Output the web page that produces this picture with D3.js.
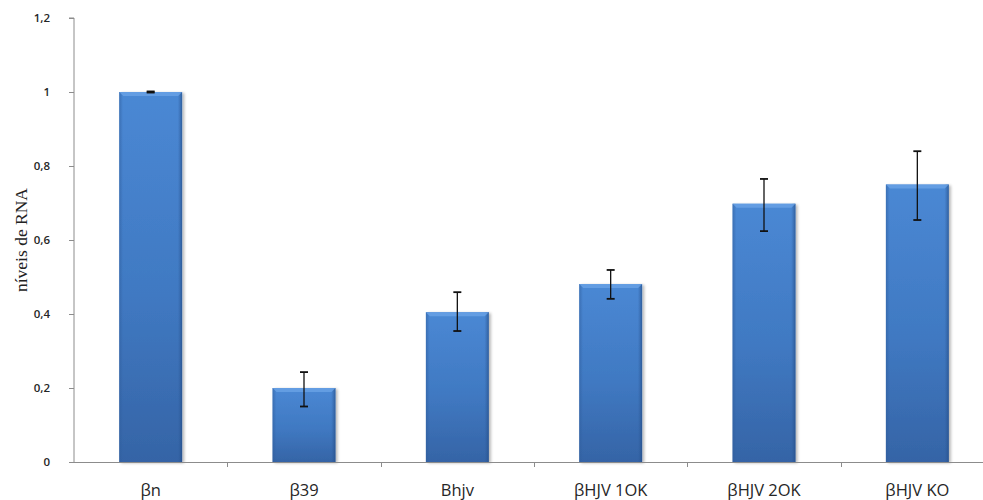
<!DOCTYPE html>
<html>
<head>
<meta charset="utf-8">
<script src="https://cdn.jsdelivr.net/npm/d3@7"></script>
<style>
  html, body { margin: 0; padding: 0; background: #fff; }
  svg { display: block; }
</style>
</head>
<body>
<svg id="chart" width="983" height="500"></svg>
<script>
// RNA levels per sample, with error bar bounds
const categories = ["βn", "β39", "Bhjv", "βHJV 1OK", "βHJV 2OK", "βHJV KO"];
const values = [1.0, 0.2, 0.405, 0.481, 0.698, 0.75];
const errHigh = [1.0015, 0.243, 0.459, 0.519, 0.765, 0.84];
const errLow = [0.9985, 0.15, 0.354, 0.441, 0.624, 0.654];
const yTicks = [0, 0.2, 0.4, 0.6, 0.8, 1, 1.2];
const yTickLabels = ["0", "0,2", "0,4", "0,6", "0,8", "1", "1,2"];
const yTitle = "níveis de RNA";

const svg = d3.select("#chart");
const plotLeft = 74, plotRight = 994, plotTop = 18, plotBottom = 462;

const x = d3.scaleBand().domain(categories).range([plotLeft, plotRight]).paddingInner(0.59).paddingOuter(0.295);
const y = d3.scaleLinear().domain([0, 1.2]).range([plotBottom, plotTop]);

const defs = svg.append("defs");
const grad = defs.append("linearGradient").attr("id", "barFill").attr("x1", 0).attr("y1", 0).attr("x2", 0).attr("y2", 1);
grad.append("stop").attr("offset", "0%").attr("stop-color", "#4a88d4");
grad.append("stop").attr("offset", "55%").attr("stop-color", "#4079c2");
grad.append("stop").attr("offset", "100%").attr("stop-color", "#3564a6");
const side = defs.append("linearGradient").attr("id", "barSide").attr("x1", 0).attr("y1", 0).attr("x2", 1).attr("y2", 0);
side.append("stop").attr("offset", "0%").attr("stop-color", "#2f5d9c").attr("stop-opacity", 0.55);
side.append("stop").attr("offset", "6%").attr("stop-color", "#2f5d9c").attr("stop-opacity", 0);
side.append("stop").attr("offset", "93%").attr("stop-color", "#2f5d9c").attr("stop-opacity", 0);
side.append("stop").attr("offset", "100%").attr("stop-color", "#244c85").attr("stop-opacity", 0.7);
const shadow = defs.append("filter").attr("id", "shadow").attr("x", "-20%").attr("y", "-5%").attr("width", "140%").attr("height", "110%");
shadow.append("feGaussianBlur").attr("in", "SourceAlpha").attr("stdDeviation", 1.6);
shadow.append("feOffset").attr("dx", 2).attr("dy", 1).attr("result", "ob");
shadow.append("feComponentTransfer").append("feFuncA").attr("type", "linear").attr("slope", 0.3);
const merge = shadow.append("feMerge");
merge.append("feMergeNode");
merge.append("feMergeNode").attr("in", "SourceGraphic");

// bars
const bars = svg.append("g").selectAll("g").data(categories).join("g");
bars.append("rect")
  .attr("x", d => x(d)).attr("y", (d, i) => y(values[i]))
  .attr("width", x.bandwidth()).attr("height", (d, i) => plotBottom - y(values[i]))
  .attr("fill", "url(#barFill)").attr("filter", "url(#shadow)");
bars.append("rect")
  .attr("x", d => x(d)).attr("y", (d, i) => y(values[i]))
  .attr("width", x.bandwidth()).attr("height", (d, i) => plotBottom - y(values[i]))
  .attr("fill", "url(#barSide)");
// light bevel along the top
bars.append("path")
  .attr("d", (d, i) => {
    const x0 = x(d), x1 = x(d) + x.bandwidth(), t = y(values[i]);
    return `M${x0},${t}L${x1},${t}L${x1 - 4},${t + 4}L${x0 + 4},${t + 4}Z`;
  })
  .attr("fill", "#6aa3e6").attr("opacity", 0.8);

// axes
const axisColor = "#8c8c8c";
const yAxis = svg.append("g").attr("transform", `translate(${plotLeft},0)`)
  .call(d3.axisLeft(y).tickValues(yTicks).tickSize(5).tickPadding(19).tickFormat((d, i) => yTickLabels[i]));
yAxis.select(".domain").attr("stroke", axisColor).attr("d", `M-5,${plotTop}H0V${plotBottom}`);
yAxis.selectAll(".tick line").attr("stroke", axisColor);
yAxis.selectAll(".tick text").attr("fill", "#262626").style("font-family", "'Open Sans', 'Liberation Sans', sans-serif").style("font-size", "11.5px").style("font-weight", "600");

const xAxis = svg.append("g").attr("transform", `translate(0,${plotBottom})`)
  .call(d3.axisBottom(x).tickSize(0).tickPadding(22));
xAxis.select(".domain").attr("stroke", axisColor).attr("d", `M${plotLeft},0.5H${plotRight}`);
xAxis.selectAll(".tick text").attr("fill", "#262626").style("font-family", "'Open Sans', 'Liberation Sans', sans-serif").style("font-size", "16.5px");
// category separators
svg.append("g").selectAll("line").data(categories.slice(1)).join("line")
  .attr("x1", d => Math.round(x(d) - x.step() * x.paddingInner() / 2) + 0.5)
  .attr("x2", d => Math.round(x(d) - x.step() * x.paddingInner() / 2) + 0.5)
  .attr("y1", plotBottom).attr("y2", plotBottom + 5).attr("stroke", axisColor);

// error bars
const eb = svg.append("g").attr("stroke", "#111").attr("stroke-width", 1.3);
categories.forEach((c, i) => {
  const cx = x(c) + x.bandwidth() / 2;
  eb.append("line").attr("x1", cx).attr("x2", cx).attr("y1", y(errHigh[i])).attr("y2", y(errLow[i]));
  eb.append("line").attr("x1", cx - 4).attr("x2", cx + 4).attr("y1", y(errHigh[i])).attr("y2", y(errHigh[i])).attr("stroke-width", 1.8);
  eb.append("line").attr("x1", cx - 4).attr("x2", cx + 4).attr("y1", y(errLow[i])).attr("y2", y(errLow[i])).attr("stroke-width", 1.8);
});

// y title
svg.append("text")
  .attr("transform", `translate(27,240) rotate(-90)`)
  .attr("text-anchor", "middle")
  .attr("fill", "#222")
  .style("font-family", "'Liberation Serif', 'DejaVu Serif', serif")
  .style("font-size", "17.5px")
  .text(yTitle);
</script>
</body>
</html>
